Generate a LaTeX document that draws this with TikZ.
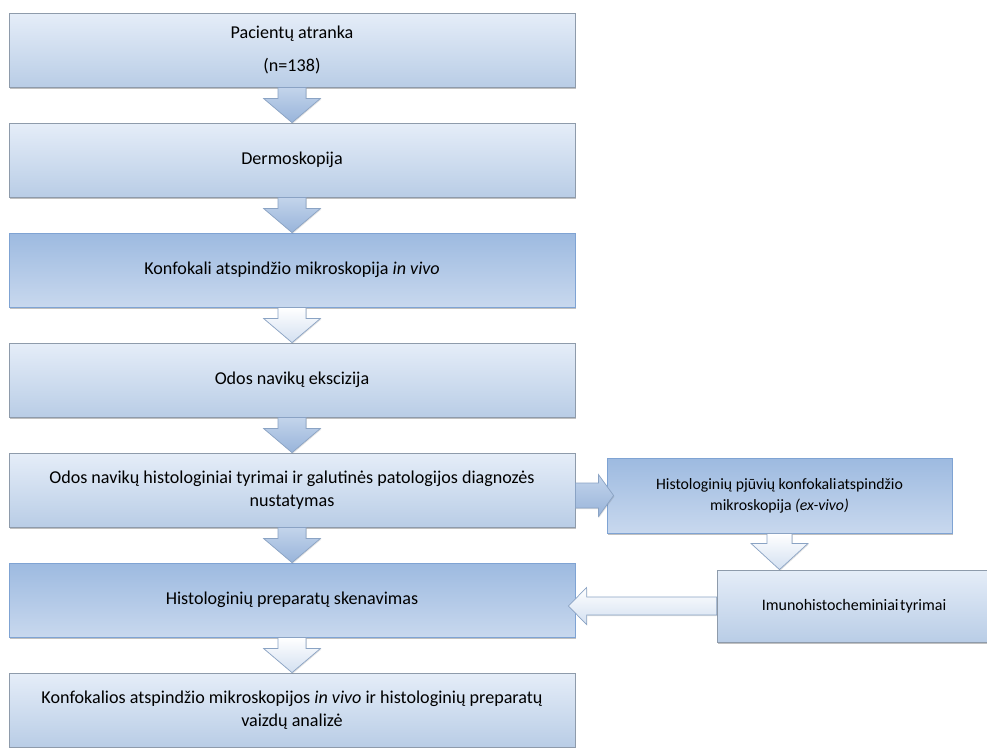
\documentclass[tikz,border=0pt]{standalone}
\usepackage{fontspec}
\setmainfont{Carlito}
\usetikzlibrary{shadows,calc}
\definecolor{lt}{HTML}{E5EDF8}
\definecolor{lb}{HTML}{B9CDE6}
\definecolor{lbd}{HTML}{8E9BAB}
\definecolor{dt}{HTML}{9DBAE0}
\definecolor{db}{HTML}{C8D8EE}
\definecolor{dbd}{HTML}{7FA3D3}
\definecolor{at}{HTML}{C3D4EB}
\definecolor{ab}{HTML}{98B4DA}
\definecolor{abd}{HTML}{8AA3C4}
\definecolor{wt}{HTML}{FFFFFF}
\definecolor{wb}{HTML}{D3E0F1}
\newcommand\dnarrow[6]{% from, to, style, shaft half, head half, head offset
  \path[#3] ($(#1.south)+(-#4,0)$) -- ($(#1.south)+(#4,0)$) -- ($(#1.south)+(#4,#6)$)
    -- ($(#1.south)+(#5,#6)$) -- (#1.south |- #2.north) -- ($(#1.south)+(-#5,#6)$)
    -- ($(#1.south)+(-#4,#6)$) -- cycle;}
\begin{document}
\begin{tikzpicture}[x=1pt,y=-1pt,
  box/.style={rectangle, draw=lbd, line width=0.8pt, top color=lt, bottom color=lb,
    minimum width=566pt, minimum height=74pt, align=center, inner sep=0pt,
    font=\fontsize{18.1}{22.5}\selectfont,
    drop shadow={shadow xshift=1.2pt, shadow yshift=-1.5pt, opacity=0.35, fill=black!70}},
  darkbox/.style={box, draw=dbd, top color=dt, bottom color=db},
  smallbox/.style={font=\fontsize{15.8}{21}\selectfont},
  darrow/.style={draw=abd, line width=0.7pt, top color=at, bottom color=ab,
    drop shadow={shadow xshift=0.8pt, shadow yshift=-1pt, opacity=0.2, fill=black!60}},
  larrow/.style={draw=abd, line width=0.7pt, top color=wt, bottom color=wb,
    drop shadow={shadow xshift=0.8pt, shadow yshift=-1pt, opacity=0.2, fill=black!60}},
]
\useasboundingbox (0,0) rectangle (987,747);
\fill[white] (0,0) rectangle (987,747);
\clip (0,0) rectangle (987,747);

\node[box] (b1) at (292,50) {Pacientų atranka\\[11pt](n=138)};
\node[box] (b2) at (292,160) {Dermoskopija};
\node[darkbox] (b3) at (292,270) {Konfokali atspindžio mikroskopija \textit{in vivo}};
\node[box] (b4) at (292,380) {Odos navikų ekscizija};
\node[box] (b5) at (292,490) {Odos navikų histologiniai tyrimai ir galutinės patologijos diagnozės\\nustatymas};
\node[darkbox] (b6) at (292,600) {Histologinių preparatų skenavimas};
\node[box] (b7) at (292,710) {Konfokalios atspindžio mikroskopijos \textit{in vivo} ir histologinių preparatų\\vaizdų analizė};

\node[darkbox, smallbox, minimum width=345pt, minimum height=75pt] (ba) at (779.5,495.5)
  {Histologinių pjūvių konfokali\hspace{0.05em}atspindžio\\mikroskopija \textit{(ex-vivo)}};
\node[box, smallbox, font=\fontsize{16}{21}\selectfont, minimum width=274pt, minimum height=72pt] (bb) at (854,606)
  {Imunohistocheminiai\hspace{0.1em}tyrimai};

% vertical arrows
\dnarrow{b1}{b2}{darrow}{14}{28.5}{11}
\dnarrow{b2}{b3}{darrow}{14}{28.5}{11}
\dnarrow{b3}{b4}{larrow}{14}{28.5}{11}
\dnarrow{b4}{b5}{darrow}{14}{28.5}{11}
\dnarrow{b5}{b6}{darrow}{14}{28.5}{11}
\dnarrow{b6}{b7}{larrow}{14}{28.5}{11}
\dnarrow{ba}{bb}{larrow}{12.5}{28.5}{10}

% right arrow b5 -> ba
\coordinate (r0) at (b5.east |- ba.west);
\coordinate (rt) at ($(ba.west)+(7,0)$);
\path[darrow, top color=at, bottom color=ab]
  ($(r0)+(0,-12.5)$) -- ($(r0)+(23,-12.5)$) -- ($(r0)+(23,-21)$) -- (rt)
  -- ($(r0)+(23,21)$) -- ($(r0)+(23,12.5)$) -- ($(r0)+(0,12.5)$) -- cycle;

% left arrow bb -> b6
\coordinate (l0) at (bb.west);
\coordinate (lt) at ($(b6.east |- bb.west)+(-7,0)$);
\path[larrow]
  ($(l0)+(0,-9)$) -- ($(l0)+(-130,-9)$) -- ($(l0)+(-130,-18.5)$) -- (lt)
  -- ($(l0)+(-130,18.5)$) -- ($(l0)+(-130,9)$) -- ($(l0)+(0,9)$) -- cycle;
\end{tikzpicture}
\end{document}
